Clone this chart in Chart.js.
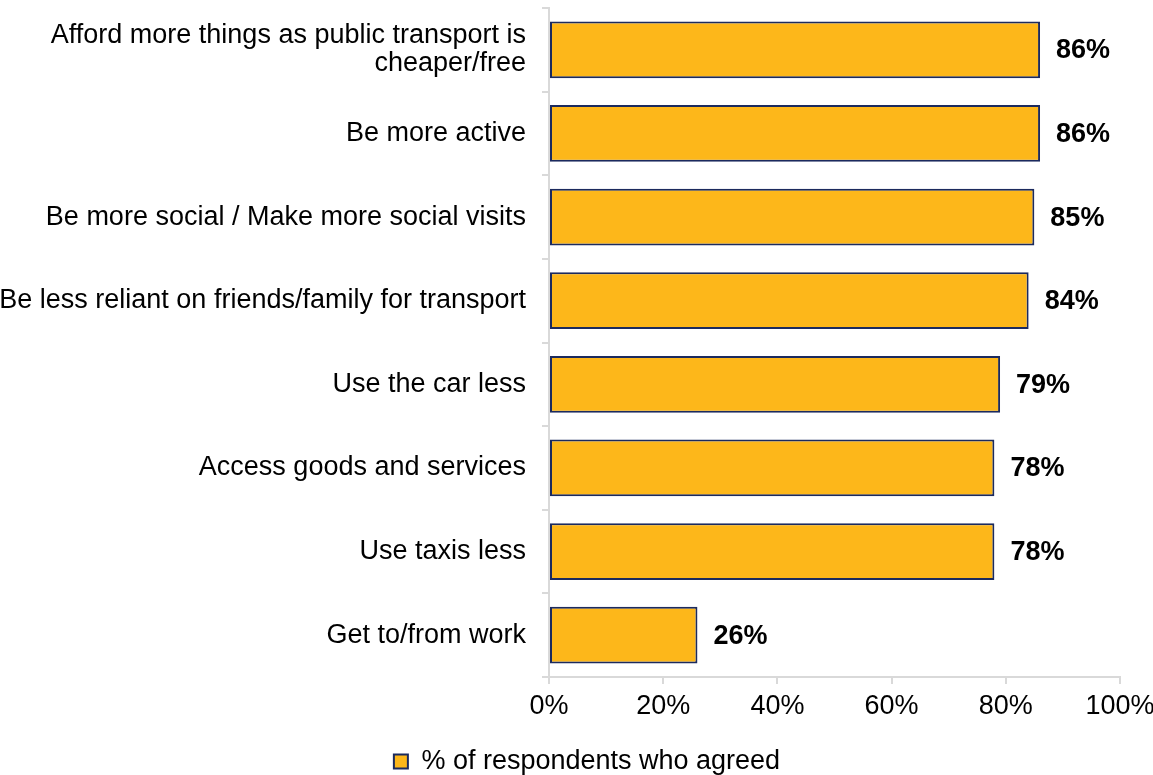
<!DOCTYPE html>
<html>
<head>
<meta charset="utf-8">
<title>Respondents who agreed</title>
<script src="https://cdn.jsdelivr.net/npm/chart.js@4/dist/chart.umd.min.js"></script>
<style>
    html, body { margin: 0; padding: 0; background: #fff; }
    #wrap { width: 1153px; height: 775px; position: relative; }
</style>
</head>
<body>
<div id="wrap"><canvas id="chart"></canvas></div>
<script>
const categories = [
    ['Afford more things as public transport is', 'cheaper/free'],
    'Be more active',
    'Be more social / Make more social visits',
    'Be less reliant on friends/family for transport',
    'Use the car less',
    'Access goods and services',
    'Use taxis less',
    'Get to/from work'
];
const agreed = [86, 86, 85, 84, 79, 78, 78, 26];
const seriesLabel = '% of respondents who agreed';

const FONT = 'Liberation Sans, Arial, sans-serif';
const axisGrey = '#d9d9d9';

// value labels at the end of each bar
const barValues = {
    id: 'barValues',
    afterDatasetsDraw(chart) {
        const ctx = chart.ctx;
        const meta = chart.getDatasetMeta(0);
        ctx.save();
        ctx.font = 'bold 27px ' + FONT;
        ctx.fillStyle = '#000';
        ctx.textAlign = 'left';
        ctx.textBaseline = 'middle';
        meta.data.forEach((bar, i) => {
            ctx.fillText(agreed[i] + '%', bar.x + 16, bar.y + 1);
        });
        ctx.restore();
    }
};

// nudge the legend a little right and down, under the bars
const legendNudge = {
    id: 'legendNudge',
    afterLayout(chart) {
        const lg = chart.legend;
        lg.left += 27;
        lg.right += 27;
        lg.top += 10;
        lg.bottom += 10;
    }
};

new Chart(document.getElementById('chart'), {
    type: 'bar',
    data: {
        labels: categories,
        datasets: [{
            label: seriesLabel,
            data: agreed,
            backgroundColor: '#FDB71A',
            borderColor: '#1B2A5E',
            borderWidth: 2,
            borderSkipped: false,
            categoryPercentage: 1,
            barPercentage: 0.68
        }]
    },
    options: {
        indexAxis: 'y',
        responsive: true,
        maintainAspectRatio: false,
        animation: false,
        layout: { padding: { top: 8, right: 33, bottom: 0, left: 0 } },
        plugins: {
            legend: {
                position: 'bottom',
                labels: {
                    font: { family: FONT, size: 27 },
                    color: '#000',
                    boxWidth: 14,
                    boxHeight: 14,
                    padding: 2
                }
            },
            tooltip: { enabled: false }
        },
        scales: {
            x: {
                min: 0,
                max: 100,
                afterFit: s => {
                    s.height = 59;
                    s.paddingLeft = 0;
                    s.paddingRight = 0;
                },
                ticks: {
                    stepSize: 20,
                    callback: v => v + '%',
                    font: { family: FONT, size: 27 },
                    color: '#000',
                    padding: 6,
                    maxRotation: 0
                },
                grid: {
                    drawOnChartArea: false,
                    drawTicks: true,
                    tickLength: 7,
                    color: axisGrey,
                    lineWidth: 2
                },
                border: { color: axisGrey, width: 2 }
            },
            y: {
                afterFit: s => {
                    s.width = 549;
                    s.paddingTop = 0;
                    s.paddingBottom = 0;
                },
                ticks: {
                    font: { family: FONT, size: 27, lineHeight: 1.05 },
                    color: '#000',
                    padding: 16,
                    crossAlign: 'near'
                },
                grid: {
                    offset: true,
                    drawOnChartArea: false,
                    drawTicks: true,
                    tickLength: 7,
                    color: axisGrey,
                    lineWidth: 2
                },
                border: { color: axisGrey, width: 2 }
            }
        }
    },
    plugins: [barValues, legendNudge]
});
</script>
</body>
</html>
